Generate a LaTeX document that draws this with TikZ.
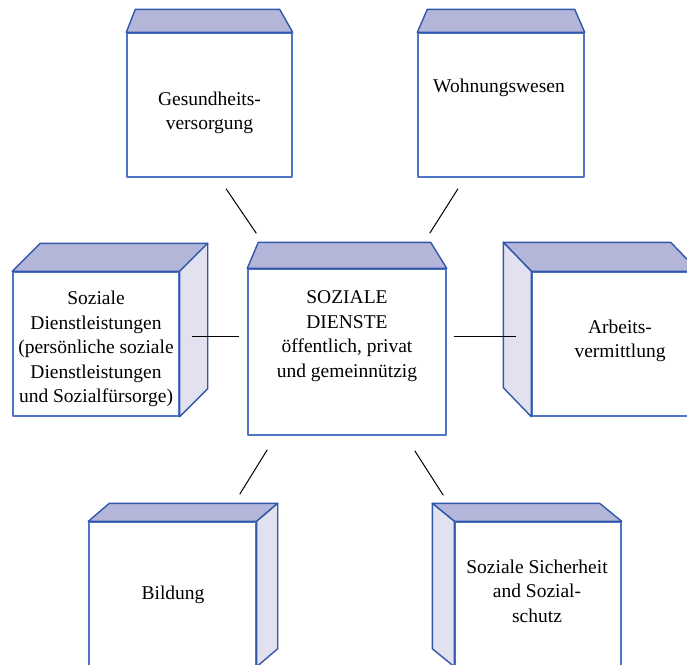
\documentclass[tikz,border=0pt]{standalone}
\usepackage{fontspec}
\setmainfont{Liberation Serif}
\newfontfamily\boxfont{Liberation Serif}
\usetikzlibrary{calc}

\begin{document}
\begin{tikzpicture}
			[x=1pt,y=-1pt,line join=round,
			%Styles
			front/.style={draw=frontblue,line width=1.4pt,fill=white,inner sep=0pt},
			top face/.style={draw=edgeblue,line width=1.4pt,fill=topfill},
			side face/.style={draw=edgeblue,line width=1.4pt,fill=sidefill},
			box text/.style={align=center,inner sep=0pt,font=\boxfont\fontsize{19.5}{24.5}\selectfont},
			link/.style={line width=1pt,black}
			]
			
			%Colors
			\definecolor{frontblue}{RGB}{78,118,196}
			\definecolor{edgeblue}{RGB}{50,86,170}
			\definecolor{topfill}{RGB}{179,182,217}
			\definecolor{sidefill}{RGB}{225,225,239}
			
			\useasboundingbox (0,0) rectangle (687,664);
			\clip (0,0) rectangle (687,664);
			
			%The graphic
			\node[front,minimum width=165pt,minimum height=144pt] (gesund) at (209.5,105) {};
			\node[front,minimum width=166pt,minimum height=144pt] (wohnung) at (501,105) {};
			\node[front,minimum width=198pt,minimum height=166pt] (dienste) at (347,352) {};
			\node[front,minimum width=166pt,minimum height=144pt] (sozdienst) at (96,344) {};
			\node[front,minimum width=166pt,minimum height=144pt] (arbeit) at (615,344) {};
			\node[front,minimum width=167pt,minimum height=144pt] (bildung) at (172.5,594) {};
			\node[front,minimum width=166pt,minimum height=144pt] (sicherheit) at (538,594) {};
			
			%top and side faces
			\filldraw[top face] (gesund.north west) -- ++(9,-23) -- ($(gesund.north east)+(-13,-23)$) -- (gesund.north east) -- cycle;
			\filldraw[top face] (wohnung.north west) -- ++(10,-23) -- ($(wohnung.north east)+(-10,-23)$) -- (wohnung.north east) -- cycle;
			\filldraw[top face] (dienste.north west) -- ++(11,-26) -- ($(dienste.north east)+(-16,-26)$) -- (dienste.north east) -- cycle;
			
			\filldraw[top face] (sozdienst.north west) -- ++(28,-28) -- ($(sozdienst.north east)+(28,-28)$) -- (sozdienst.north east) -- cycle;
			\filldraw[side face] (sozdienst.north east) -- ++(28,-28) -- ($(sozdienst.south east)+(28,-28)$) -- (sozdienst.south east) -- cycle;
			
			\filldraw[top face] (arbeit.north east) -- ++(-28,-29) -- ($(arbeit.north west)+(-28,-29)$) -- (arbeit.north west) -- cycle;
			\filldraw[side face] (arbeit.north west) -- ++(-28,-29) -- ($(arbeit.south west)+(-28,-29)$) -- (arbeit.south west) -- cycle;
			
			\filldraw[top face] (bildung.north west) -- ++(21,-18) -- ($(bildung.north east)+(21,-18)$) -- (bildung.north east) -- cycle;
			\filldraw[side face] (bildung.north east) -- ++(21,-18) -- ($(bildung.south east)+(21,-18)$) -- (bildung.south east) -- cycle;
			
			\filldraw[top face] (sicherheit.north east) -- ++(-22,-18) -- ($(sicherheit.north west)+(-22,-18)$) -- (sicherheit.north west) -- cycle;
			\filldraw[side face] (sicherheit.north west) -- ++(-22,-18) -- ($(sicherheit.south west)+(-22,-18)$) -- (sicherheit.south west) -- cycle;
			
			%texts
			\node[box text] (gesund-txt) at (209.5,113) {Gesundheits-\\versorgung};
			\node[box text] (wohnung-txt) at (499,88) {Wohnungswesen};
			\node[box text] (dienste-txt) at (347,336) {SOZIALE\\DIENSTE\\öffentlich, privat\\und gemeinnützig};
			\node[box text] (sozdienst-txt) at (96,349) {Soziale\\Dienstleistungen\\(persönliche soziale\\Dienstleistungen\\und Sozialfürsorge)};
			\node[box text] (arbeit-txt) at (620,341) {Arbeits-\\vermittlung};
			\node[box text] (bildung-txt) at (173,595) {Bildung};
			\node[box text] (sicherheit-txt) at (537,591) {Soziale Sicherheit\\and Sozial-\\schutz};
			
			%links
			\draw[link] ($(gesund.south)+(16.5,11)$) -- ($(dienste.north west)+(9,-35)$);
			\draw[link] ($(wohnung.south)+(-43,11)$) -- ($(dienste.north east)+(-17,-35)$);
			\draw[link] ($(sozdienst.east)+(12,-8)$) -- ($(dienste.west)+(-8,-16)$);
			\draw[link] ($(dienste.east)+(7,-16)$) -- ($(arbeit.west)+(-15,-8)$);
			\draw[link] ($(dienste.south west)+(20,14)$) -- ($(bildung.north east)+(-17,-27)$);
			\draw[link] ($(dienste.south east)+(-32,15)$) -- ($(sicherheit.north west)+(-11,-26)$);
		\end{tikzpicture}
\end{document}
